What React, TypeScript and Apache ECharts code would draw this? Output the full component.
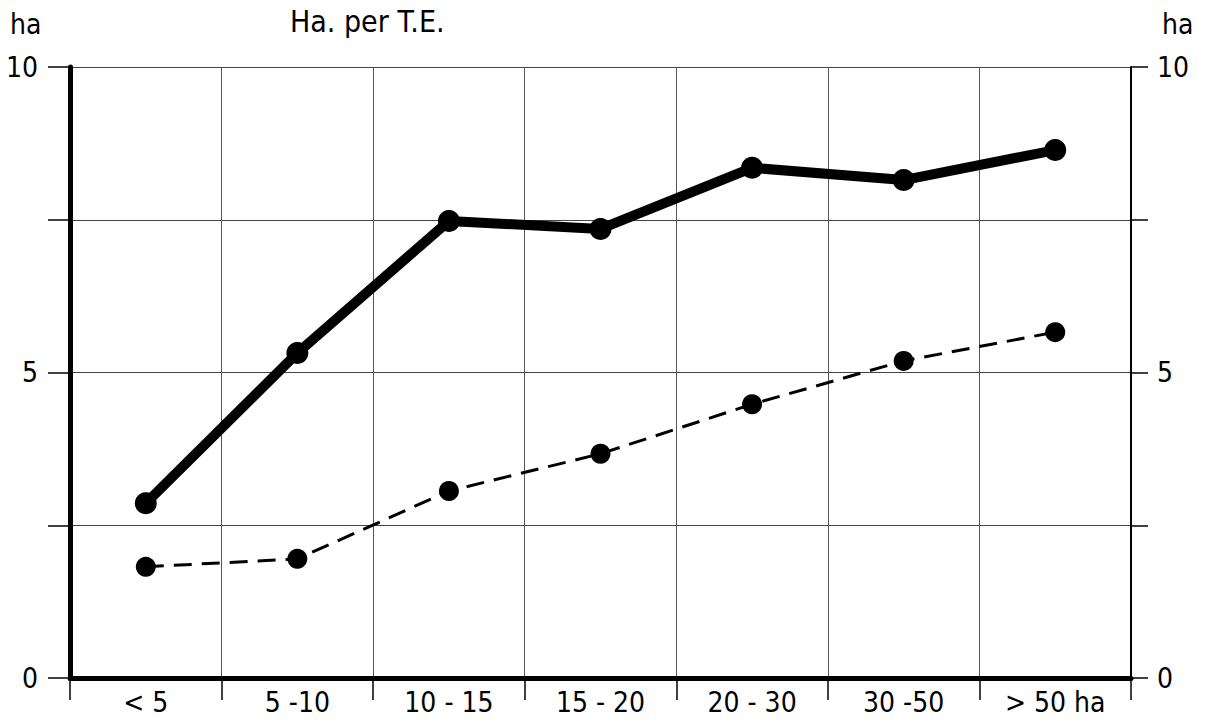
import React, { useEffect, useRef } from "react";
import * as echarts from "echarts";

const categories = ["< 5", "5 -10", "10 - 15", "15 - 20", "20 - 30", "30 -50", "> 50 ha"];
const solidValues = [2.86, 5.32, 7.48, 7.35, 8.35, 8.15, 8.64];
const dashedValues = [1.82, 1.95, 3.06, 3.67, 4.48, 5.19, 5.66];
const yLabels = [0, 5, 10];

const FONT = "'DejaVu Sans Condensed', 'Liberation Sans Narrow', 'DejaVu Sans', sans-serif";

export default function App() {
  const ref = useRef<HTMLDivElement>(null);
  useEffect(() => {
    document.body.style.margin = "0";
    if (!ref.current) return;
    const chart = echarts.init(ref.current, null, { renderer: "svg" });
    const fmt = (v: number) => (yLabels.indexOf(v) >= 0 ? String(v) : "");
    chart.setOption({
      animation: false,
      backgroundColor: "#fff",
      grid: { left: 70, right: 76, top: 67, bottom: 46, containLabel: false },
      graphic: [
        { type: "text", left: 10, top: 10, style: { text: "ha", font: `28px ${FONT}`, fill: "#000" } },
        { type: "text", left: 290, top: 6, style: { text: "Ha. per T.E.", font: `30px ${FONT}`, fill: "#000" } },
        { type: "text", left: 1162, top: 10, style: { text: "ha", font: `28px ${FONT}`, fill: "#000" } },
      ],
      xAxis: {
        type: "category",
        data: categories,
        boundaryGap: true,
        axisLine: { show: true, lineStyle: { color: "#000", width: 5 } },
        axisTick: { show: true, length: 22, lineStyle: { color: "#000", width: 1.5 } },
        axisLabel: { color: "#000", fontSize: 28, fontFamily: FONT, margin: 10 },
        splitLine: { show: true, lineStyle: { color: "#555", width: 1 } },
      },
      yAxis: [
        {
          type: "value",
          min: 0,
          max: 10,
          interval: 2.5,
          position: "left",
          axisLine: { show: true, lineStyle: { color: "#000", width: 5 } },
          axisTick: { show: true, length: 22, lineStyle: { color: "#000", width: 1.5 } },
          axisLabel: { color: "#000", fontSize: 28, fontFamily: FONT, margin: 32, formatter: fmt },
          splitLine: { show: true, lineStyle: { color: "#444", width: 1 } },
        },
        {
          type: "value",
          min: 0,
          max: 10,
          interval: 2.5,
          position: "right",
          axisLine: { show: true, lineStyle: { color: "#000", width: 2 } },
          axisTick: { show: true, length: 17, lineStyle: { color: "#000", width: 1.5 } },
          axisLabel: { color: "#000", fontSize: 28, fontFamily: FONT, margin: 26, formatter: fmt },
          splitLine: { show: false },
        },
      ],
      series: [
        {
          type: "line",
          data: solidValues,
          symbol: "circle",
          symbolSize: 22,
          lineStyle: { color: "#000", width: 10 },
          itemStyle: { color: "#000" },
          z: 3,
        },
        {
          type: "line",
          data: dashedValues,
          symbol: "circle",
          symbolSize: 20,
          lineStyle: { color: "#000", width: 3, type: [18, 10] },
          itemStyle: { color: "#000" },
          z: 3,
        },
      ],
    });
    return () => chart.dispose();
  }, []);
  return <div ref={ref} style={{ width: 1207, height: 724 }} />;
}
